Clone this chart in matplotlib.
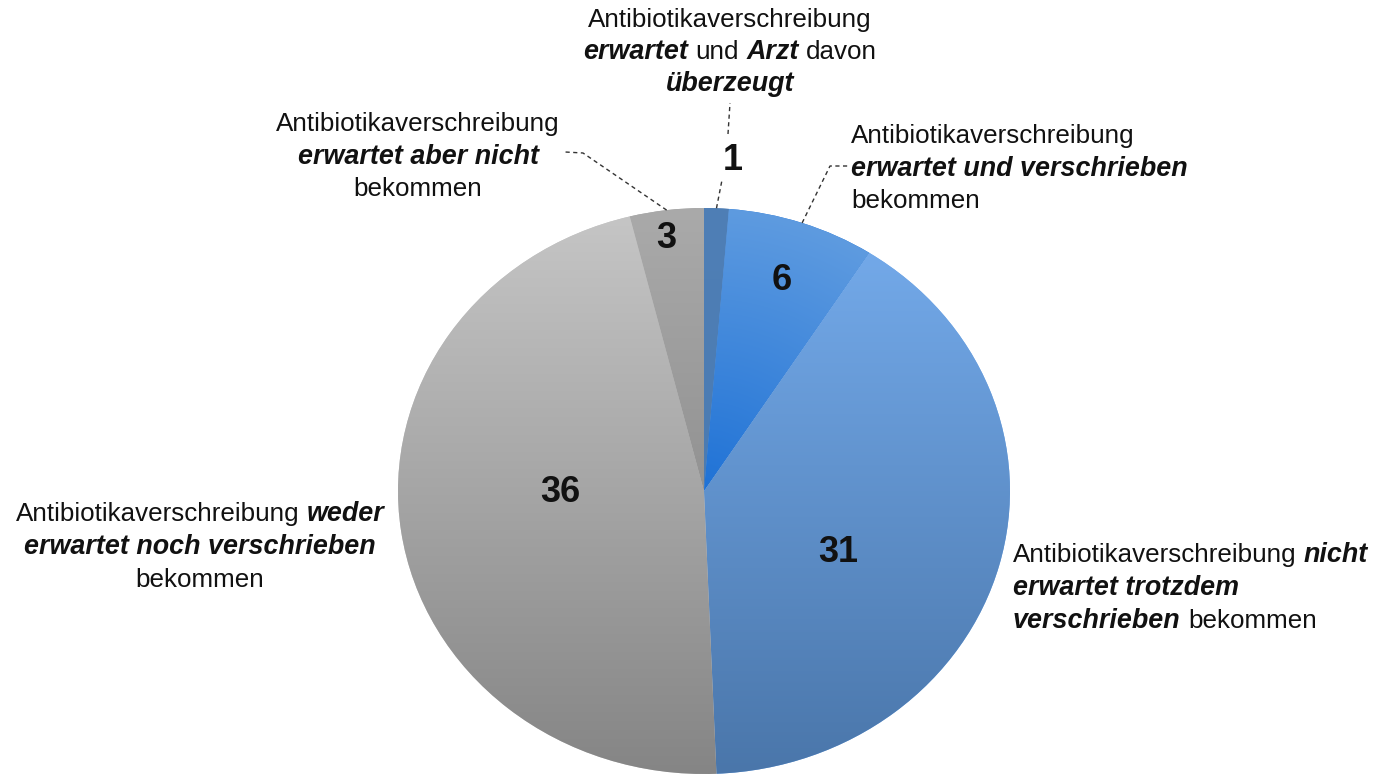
import numpy as np
import matplotlib
matplotlib.use("Agg")
import matplotlib.pyplot as plt
from matplotlib.colors import to_rgb

# Daten
values = [1, 6, 31, 36, 3]
value_labels = ["1", "6", "31", "36", "3"]

# Kategorien: Zeilen aus (Text, hervorgehoben)
cat_labels = [
    [[("Antibiotikaverschreibung", False)],
     [("erwartet", True), ("und", False), ("Arzt", True), ("davon", False)],
     [("überzeugt", True)]],
    [[("Antibiotikaverschreibung", False)],
     [("erwartet und verschrieben", True)],
     [("bekommen", False)]],
    [[("Antibiotikaverschreibung", False), ("nicht", True)],
     [("erwartet trotzdem", True)],
     [("verschrieben", True), ("bekommen", False)]],
    [[("Antibiotikaverschreibung", False), ("weder", True)],
     [("erwartet noch verschrieben", True)],
     [("bekommen", False)]],
    [[("Antibiotikaverschreibung", False)],
     [("erwartet aber nicht", True)],
     [("bekommen", False)]],
]

# Farben (oben, unten) je Segment
grad_colors = [("#4f7fb6", "#4777ad"),
               ("#1f72d6", "#5e9be0"),
               ("#76adee", "#4a76aa"),
               ("#c6c6c6", "#858585"),
               ("#aaaaaa", "#7a7a7a")]

# Layout (Pixel)
W, H = 1380, 780
cx, cy, rx, ry = 704, 491, 306, 283
FS = 18.7
FS_EM = 19.4
num_pos = [(733, 160), (782, 281), (838, 553), (560, 492), (666, 238)]
# Textblock: (x, erste Grundlinie, Zeilenabstand, Ausrichtung)
text_pos = [(730, 27, 32, "center"),
            (851, 143, 32.5, "left"),
            (1013, 562, 33, "left"),
            (200, 521, 33, "center"),
            (418, 131, 32.5, "center")]

fig = plt.figure(figsize=(W / 100, H / 100), dpi=100)
fig.patch.set_facecolor("white")

m = 1.03
ax = fig.add_axes([(cx - rx * m) / W, (H - cy - ry * m) / H,
                   2 * rx * m / W, 2 * ry * m / H])
wedges, _ = ax.pie(values, startangle=90, counterclock=False, radius=1,
                   colors=[c[0] for c in grad_colors],
                   wedgeprops=dict(linewidth=0))
ax.set_aspect("auto")
ax.set_xlim(-m, m)
ax.set_ylim(-m, m)
ax.axis("off")

# Verlaeufe in die Segmente legen
n = 400
yy, xx = np.mgrid[0:1:n * 1j, -1:1:n * 1j]
for i, (w, (c0, c1)) in enumerate(zip(wedges, grad_colors)):
    a, b = np.array(to_rgb(c0)), np.array(to_rgb(c1))
    if i == 1:
        rr = np.clip(np.hypot(xx, (yy * 2 - 1)), 0, 1)
        t = rr[..., None]
    else:
        t = yy[..., None]
    img = a * (1 - t) + b * t
    im = ax.imshow(img, extent=(-1, 1, -1, 1), origin="upper",
                   aspect="auto", zorder=2, interpolation="bilinear")
    im.set_clip_path(w)

# Ueberlagerung in Pixelkoordinaten
ov = fig.add_axes([0, 0, 1, 1], facecolor="none")
ov.set_xlim(0, W)
ov.set_ylim(H, 0)
ov.axis("off")

for s, (x, y) in zip(value_labels, num_pos):
    ov.text(x, y, s, fontsize=26, fontweight="bold", family="Liberation Sans",
            ha="center", va="center", color="#111111")

renderer = fig.canvas.get_renderer()
space = 0.278 * FS * 100 / 72


def draw_line(x, y, parts, ha):
    arts, widths = [], []
    for s, em in parts:
        t = ov.text(0, y, s, fontsize=FS_EM if em else FS,
                    family="Liberation Sans",
                    fontweight="bold" if em else "normal",
                    style="italic" if em else "normal",
                    ha="left", va="baseline", color="#111111")
        arts.append(t)
        widths.append(t.get_window_extent(renderer).width)
    total = sum(widths) + space * (len(parts) - 1)
    x0 = x - total / 2 if ha == "center" else x
    for t, wd in zip(arts, widths):
        t.set_x(x0)
        x0 += wd + space


for lines, (x, y0, dy, ha) in zip(cat_labels, text_pos):
    for k, parts in enumerate(lines):
        draw_line(x, y0 + k * dy, parts, ha)

# Fuehrungslinien vom Segmentrand zur Beschriftung
cum = np.cumsum([0] + values)
mid = (cum[:-1] + cum[1:]) / 2 / cum[-1] * 2 * np.pi
ex = cx + rx * np.sin(mid)
ey = cy - ry * np.cos(mid)
ls = dict(color="#333333", lw=1, ls=(0, (3, 2.5)))
ov.plot([ex[0], 722], [ey[0], 180], **ls)
ov.plot([728, 730], [134, 103], **ls)
ov.plot([ex[1], 830, 848], [ey[1], 166, 166], **ls)
ov.plot([ex[4], 583, 565], [ey[4], 153, 152], **ls)

fig.savefig("out.png", dpi=100, facecolor="white")
